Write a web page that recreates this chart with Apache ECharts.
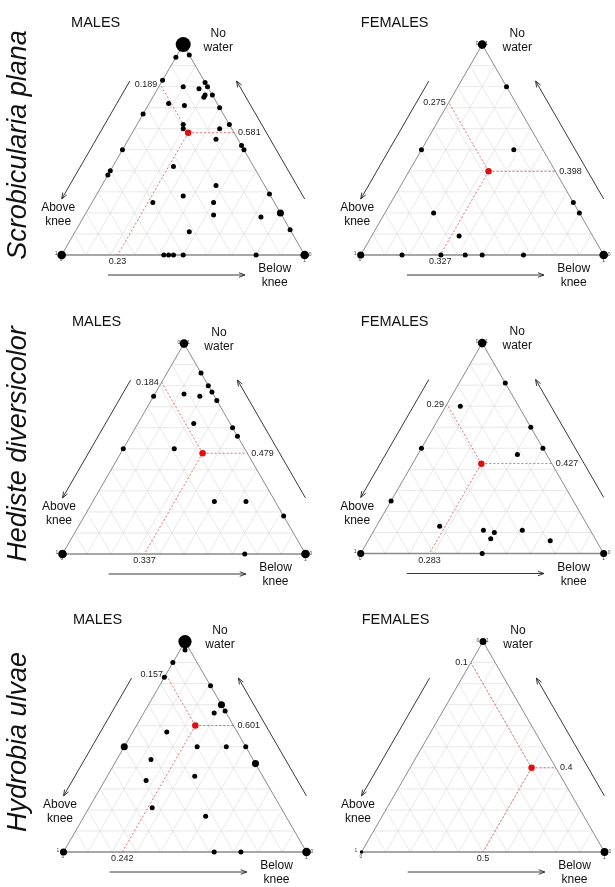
<!DOCTYPE html>
<html><head><meta charset="utf-8">
<script src="https://cdn.jsdelivr.net/npm/echarts@6/dist/echarts.min.js"></script>
<style>html,body{margin:0;padding:0;background:#fff}#c{width:615px;height:887px}</style>
</head><body><div id="c"></div>
<script>
// ---- labels ----
const axisNames = ['Above\nknee', 'Below\nknee', 'No\nwater'];
const species = ['Scrobicularia plana', 'Hediste diversicolor', 'Hydrobia ulvae'];
const sexes = ['MALES', 'FEMALES'];

// ---- data: [above knee, below knee, no water, number of observations] ----
const scrobMales = [
  [0,0,1,9],[0.06,0,0.94,1],[0,0.05,0.95,1],[0.17,0,0.83,1],[0.1,0.1,0.8,1],
  [0,0.18,0.82,1],[0,0.2,0.8,1],[0.04,0.17,0.79,1],[0,0.24,0.76,1],[0.03,0.21,0.76,1],
  [0.04,0.21,0.75,1],[0.2,0.08,0.72,1],[0.14,0.15,0.71,1],[0,0.3,0.7,1],[0.33,0,0.67,1],
  [0.19,0.19,0.62,1],[0.2,0.2,0.6,1],[0.05,0.35,0.6,1],[0,0.38,0.62,1],[0.09,0.36,0.55,1],
  [0,0.48,0.52,1],[0,0.5,0.5,1],[0.5,0,0.5,1],[0.33,0.25,0.42,1],[0.6,0,0.4,1],
  [0.62,0,0.38,1],[0.2,0.47,0.33,1],[0.36,0.36,0.28,1],[0.5,0.25,0.25,1],[0.25,0.5,0.25,1],
  [0,0.71,0.29,1],[0.28,0.53,0.19,1],[0,0.8,0.2,2],[0.09,0.73,0.18,1],[0,0.88,0.12,1],
  [0.42,0.47,0.11,1],[0.58,0.42,0,1],[0.56,0.44,0,1],[0.54,0.46,0,1],[0.5,0.5,0,1],
  [0.2,0.8,0,1],[1,0,0,3],[0,1,0,3]
];
const scrobMalesMean = [0.189, 0.23, 0.581];

const scrobFemales = [
  [0,0,1,3],[0,0.2,0.8,1],[0.5,0,0.5,1],[0.12,0.38,0.5,1],[0,0.75,0.25,1],
  [0,0.8,0.2,1],[0.6,0.2,0.2,1],[0.55,0.36,0.09,1],[0.83,0.17,0,1],[0.67,0.33,0,1],
  [0.57,0.43,0,1],[0.5,0.5,0,1],[0.33,0.67,0,1],[1,0,0,2],[0,1,0,3]
];
const scrobFemalesMean = [0.275, 0.327, 0.398];

const hedisteMales = [
  [0,0,1,3],[0,0.14,0.86,1],[0,0.2,0.8,1],[0,0.23,0.77,1],[0,0.27,0.73,1],
  [0.25,0,0.75,1],[0.12,0.12,0.76,1],[0.06,0.19,0.75,1],[0.15,0.23,0.62,1],[0,0.4,0.6,1],
  [0,0.44,0.56,1],[0.5,0,0.5,1],[0.29,0.21,0.5,1],[0.25,0.5,0.25,1],[0.12,0.63,0.25,1],
  [0,0.82,0.18,1],[0.25,0.75,0,1],[1,0,0,3],[0,1,0,3]
];
const hedisteMalesMean = [0.184, 0.337, 0.479];

const hedisteFemales = [
  [0,0,1,3],[0,0.19,0.81,1],[0.24,0.06,0.7,1],[0,0.4,0.6,1],[0.5,0,0.5,1],
  [0,0.5,0.5,1],[0.12,0.41,0.47,1],[0.75,0,0.25,1],[0.61,0.26,0.13,1],[0.44,0.45,0.11,1],
  [0.4,0.5,0.1,1],[0.43,0.5,0.07,1],[0.28,0.61,0.11,1],[0.19,0.75,0.06,1],[0.5,0.5,0,1],
  [1,0,0,2],[0,1,0,2]
];
const hedisteFemalesMean = [0.29, 0.283, 0.427];

const hydrobiaMales = [
  [0,0,1,7],[0.02,0.02,0.96,1],[0.1,0,0.9,1],[0.17,0,0.83,1],[0,0.21,0.79,1],
  [0,0.3,0.7,2],[0,0.33,0.67,1],[0.05,0.29,0.66,1],[0.29,0.14,0.57,1],[0.5,0,0.5,2],
  [0.2,0.3,0.5,1],[0.08,0.42,0.5,1],[0,0.5,0.5,1],[0,0.58,0.42,2],[0.42,0.14,0.44,1],
  [0.49,0.17,0.34,1],[0.28,0.36,0.36,1],[0.53,0.26,0.21,1],[0.33,0.5,0.17,1],[0.38,0.62,0,1],
  [0.27,0.73,0,1],[1,0,0,2],[0,1,0,3]
];
const hydrobiaMalesMean = [0.157, 0.242, 0.601];

const hydrobiaFemales = [[0,0,1,4],[1,0,0,1],[0,1,0,5]];
const hydrobiaFemalesMean = [0.1, 0.5, 0.4];

// ---- panel layout (pixels) ----
const panels = [
  {pts: scrobMales,     mean: scrobMalesMean,     row: 0, col: 0, left: 61.7,  base: 255,   dot: 5},
  {pts: scrobFemales,   mean: scrobFemalesMean,   row: 0, col: 1, left: 360.7, base: 255,   dot: 5},
  {pts: hedisteMales,   mean: hedisteMalesMean,   row: 1, col: 0, left: 62.5,  base: 554,   dot: 5},
  {pts: hedisteFemales, mean: hedisteFemalesMean, row: 1, col: 1, left: 360.7, base: 553.5, dot: 5},
  {pts: hydrobiaMales,  mean: hydrobiaMalesMean,  row: 2, col: 0, left: 63.5,  base: 852,   dot: 5},
  {pts: hydrobiaFemales,mean: hydrobiaFemalesMean,row: 2, col: 1, left: 361.5, base: 852,   dot: 3.5}
];
const SIDE = 243;
const H = Math.sqrt(3) / 2;
const FONT = 'Liberation Sans, Arial, Helvetica, sans-serif';

function tern(a, b, c) { return [b + c / 2, c * H]; }

function txt(x, y, text, font, align, valign, fill) {
  return {type: 'text', x: x, y: y, silent: true,
    style: {text: text, font: font, fill: fill || '#111',
      textAlign: align, textVerticalAlign: valign, align: align, verticalAlign: valign}};
}
function ln(p, q, style) {
  return {type: 'line', silent: true, shape: {x1: p[0], y1: p[1], x2: q[0], y2: q[1]}, style: style};
}
function arrow(s, e, children) {
  const st = {stroke: '#222', lineWidth: 0.9};
  children.push(ln(s, e, st));
  const dx = e[0] - s[0], dy = e[1] - s[1], L = Math.hypot(dx, dy);
  const ux = dx / L, uy = dy / L, px = -uy, py = ux, al = 6, aw = 2.3;
  children.push({type: 'polyline', silent: true, shape: {points: [
    [e[0] - ux * al + px * aw, e[1] - uy * al + py * aw], e,
    [e[0] - ux * al - px * aw, e[1] - uy * al - py * aw]]},
    style: {stroke: '#222', lineWidth: 0.9, fill: null}});
}

function frameRender(panel) {
  return function (params, api) {
    const P = (a, b, c) => api.coord(tern(a, b, c));
    const ch = [];
    const gs = {stroke: '#dedede', lineWidth: 0.7};
    for (let i = 1; i < 10; i++) {
      const k = i / 10;
      ch.push(ln(P(k, 0, 1 - k), P(k, 1 - k, 0), gs));
      ch.push(ln(P(0, k, 1 - k), P(1 - k, k, 0), gs));
      ch.push(ln(P(1 - k, 0, k), P(0, 1 - k, k), gs));
    }
    const A = P(1, 0, 0), B = P(0, 1, 0), C = P(0, 0, 1);
    ch.push({type: 'polyline', silent: true, shape: {points: [A, C, B]},
      style: {stroke: '#7d7d7d', lineWidth: 0.9, fill: null}});
    ch.push(ln(A, B, {stroke: '#8a8a8a', lineWidth: 1.4}));

    // vertex tick labels
    const vf = '5px ' + FONT, vc = '#444';
    ch.push(txt(A[0] - 5.5, A[1] - 1.5, '1', vf, 'center', 'middle', vc));
    ch.push(txt(A[0] - 0.5, A[1] + 5, '0', vf, 'center', 'middle', vc));
    ch.push(txt(B[0] + 5.5, B[1] - 0.7, '0', vf, 'center', 'middle', vc));
    ch.push(txt(B[0], B[1] + 5.3, '1', vf, 'center', 'middle', vc));
    ch.push(txt(C[0] - 5, C[1] - 1, '0', vf, 'center', 'middle', vc));
    ch.push(txt(C[0] + 4.5, C[1] - 1, '1', vf, 'center', 'middle', vc));

    // side arrows
    const len = Math.hypot(C[0] - A[0], C[1] - A[1]);
    const u = [(C[0] - A[0]) / len, (C[1] - A[1]) / len];
    const nL = [u[1], -u[0]];
    const v = [(C[0] - B[0]) / len, (C[1] - B[1]) / len];
    const nR = [-v[1], v[0]];
    const off = 28;
    arrow([A[0] + u[0] * len * 0.76 + nL[0] * off, A[1] + u[1] * len * 0.76 + nL[1] * off],
          [A[0] + u[0] * len * 0.2 + nL[0] * off, A[1] + u[1] * len * 0.2 + nL[1] * off], ch);
    arrow([B[0] + v[0] * len * 0.2 + nR[0] * off, B[1] + v[1] * len * 0.2 + nR[1] * off],
          [B[0] + v[0] * len * 0.76 + nR[0] * off, B[1] + v[1] * len * 0.76 + nR[1] * off], ch);
    const ba = P(0.81, 0.19, 0), bb = P(0.246, 0.754, 0);
    arrow([ba[0], ba[1] + 20], [bb[0], bb[1] + 20], ch);

    // axis names
    const af = '12px ' + FONT;
    ch.push(txt(C[0] + 35, C[1] - 4, axisNames[2], af, 'center', 'middle'));
    ch.push(txt(A[0] - 3.5, A[1] - 40, axisNames[0], af, 'center', 'middle'));
    ch.push(txt(B[0] - 30, B[1] + 21, axisNames[1], af, 'center', 'middle'));
    ch.forEach(c => { if (c.type === 'text' && c.style.text.indexOf('\n') >= 0) c.style.lineHeight = 14; });

    // mean guide lines and labels
    const m = panel.mean;
    const M = P(m[0], m[1], m[2]);
    const ds = {stroke: '#e24a4a', lineWidth: 0.8, lineDash: [2, 2]};
    const Lp = P(m[0], 0, 1 - m[0]);
    const Rp = P(0, 1 - m[2], m[2]);
    const Bp = P(1 - m[1], m[1], 0);
    ch.push(ln(M, Lp, ds), ln(M, Rp, ds), ln(M, Bp, ds));
    const mf = '9px ' + FONT, mc = '#222';
    ch.push(txt(Lp[0] - 3, Lp[1], String(m[0]), mf, 'right', 'middle', mc));
    ch.push(txt(Rp[0] + 4, Rp[1], String(m[2]), mf, 'left', 'middle', mc));
    ch.push(txt(Bp[0], Bp[1] + 7, String(m[1]), mf, 'center', 'middle', mc));
    return {type: 'group', children: ch};
  };
}

const grids = [], xAxes = [], yAxes = [], series = [], graphics = [];
panels.forEach((p, i) => {
  const h = SIDE * H;
  grids.push({left: p.left, top: p.base - h, width: SIDE, height: h, containLabel: false});
  xAxes.push({gridIndex: i, type: 'value', min: 0, max: 1, show: false});
  yAxes.push({gridIndex: i, type: 'value', min: 0, max: H, show: false});
  series.push({type: 'custom', xAxisIndex: i, yAxisIndex: i, data: [[0, 0]], silent: true,
    clip: false, renderItem: frameRender(p), z: 1});
  series.push({type: 'scatter', xAxisIndex: i, yAxisIndex: i, silent: true, z: 3,
    data: p.pts.map(q => tern(q[0], q[1], q[2]).concat([q[3]])),
    symbolSize: (val) => p.dot * Math.sqrt(val[2]),
    itemStyle: {color: '#000', opacity: 1}});
  series.push({type: 'scatter', xAxisIndex: i, yAxisIndex: i, silent: true, z: 4,
    data: [tern(p.mean[0], p.mean[1], p.mean[2])], symbolSize: 6.5,
    itemStyle: {color: '#dd1010', opacity: 1}});
  graphics.push({type: 'text', x: p.left + 34, y: p.base - h - 21.5, silent: true,
    style: {text: sexes[p.col], font: '14.5px ' + FONT, fill: '#111',
      textAlign: 'center', textVerticalAlign: 'middle', align: 'center', verticalAlign: 'middle'}});
  if (p.col === 0) {
    graphics.push({type: 'text', x: 18, y: p.base - 110, rotation: Math.PI / 2, silent: true,
      style: {text: species[p.row], font: 'italic 27px ' + FONT, fill: '#111',
        textAlign: 'center', textVerticalAlign: 'middle', align: 'center', verticalAlign: 'middle'}});
  }
});

const chart = echarts.init(document.getElementById('c'), null, {renderer: 'canvas'});
chart.setOption({
  animation: false,
  backgroundColor: '#fff',
  grid: grids, xAxis: xAxes, yAxis: yAxes, series: series, graphic: graphics
});
</script></body></html>
